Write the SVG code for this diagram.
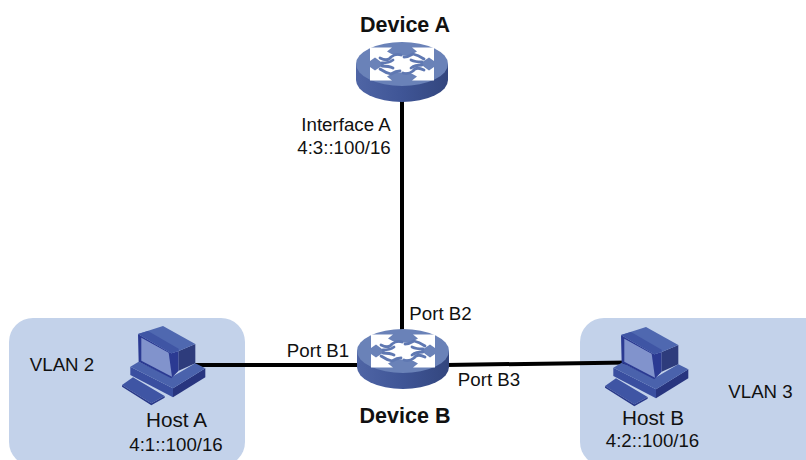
<svg xmlns="http://www.w3.org/2000/svg" width="806" height="460" viewBox="0 0 806 460">
<style>
text{font-family:"Liberation Sans",Arial,sans-serif;fill:#111;text-anchor:middle}
.l{font-size:18.7px}.h{font-size:20.7px}.d{font-size:21.5px;font-weight:bold}
.vlan{fill:#c3d2ea}
.c{stroke:#000;stroke-width:4;fill:none}
</style>
<defs>
<linearGradient id="side" x1="0" x2="1" y1="0" y2="0"><stop offset="0" stop-color="#4f65a5"/><stop offset="0.5" stop-color="#3f5596"/><stop offset="1" stop-color="#33467e"/></linearGradient>
<g id="router">
<path d="M-46 0V16A46 22 0 0 0 46 16V0Z" fill="url(#side)"/>
<ellipse cx="0" cy="0" rx="46" ry="22" fill="#6a82b8"/>
<path fill="#fff" d="M-32-16.500H-10L-15-12.500Q-10-9-5-8.500Q0-8.500 5-8.500Q10-9 15-12.500L10-16.500H32V-3L27-6.500Q22-3 18-0.500Q22 3 27 6.500L32 3V16.500H10L15 12.500Q10 9 5 8.500Q0 8.500-5 8.500Q-10 9-15 12.500L-10 16.500H-32V3L-27 6.500Q-22 3-18 0.500Q-22-3-27-6.500L-32-3Z"/>
<g fill="none" stroke="#5f78b2" stroke-width="2.800" stroke-linecap="round">
<path d="M-22-6Q-14-2-11-7Q-6-11-1-9"/>
<path d="M22 6Q14 2 11 7Q6 11 1 9"/>
<path d="M22-5Q16-9 11-10Q6-7 2-7"/>
<path d="M-22 5Q-16 9-11 10Q-6 7-2 7"/>
<path d="M-20-1Q-13-1-9-4"/>
<path d="M20 1Q13 1 9 4"/>
<path d="M20-2Q13-2 9-4"/>
<path d="M-20 2Q-13 2-9 4"/>
</g>
</g>
<g id="host" transform="scale(0.3333)">
<path d="M12 195L45 172L140 228L100 250Z" fill="#3f55a4"/>
<path d="M12 195L100 250L140 228V233L100 256L12 200Z" fill="#2a3a8a"/>
<path d="M37 140V165L165 232V205Z" fill="#3a4fa0"/>
<path d="M165 205V232L262 172V145Z" fill="#28357f"/>
<path d="M37 140L62 125L160 172L232 130L262 145L165 205Z" fill="#4a62ac"/>
<path d="M60 42L62 125L160 175L182 152V93L160 100Z" fill="#2b3a92"/>
<path d="M182 93L232 72V130L182 152Z" fill="#2e3c7c"/>
<path d="M60 42L135 18L232 72L182 93L160 100Z" fill="#4f68b0"/>
<path d="M60 42L90 33L182 86V93L160 100Z" fill="#3f55a4"/>
<path d="M70 53L152 98L162 170L70 122Z" fill="#8193cc"/>
</g>
</defs>
<rect class="vlan" x="9" y="318" width="236" height="148" rx="24"/>
<rect class="vlan" x="580" y="318" width="250" height="148" rx="24"/>
<g id="connectors">
<path class="c" d="M402 100V330"/>
<path class="c" d="M195 365H360"/>
<path class="c" d="M446 365L628 362.500"/>
</g>
<g id="device-a"><use href="#router" x="402" y="64"/><text class="d" x="405" y="32">Device A</text></g>
<g id="device-b"><use href="#router" x="403" y="351"/><text class="d" x="405" y="423">Device B</text></g>
<g id="host-a"><use href="#host" x="118" y="320"/><text class="h" x="176.500" y="427">Host A</text><text class="l" x="176" y="451">4:1::100/16</text></g>
<g id="host-b"><use href="#host" x="601" y="321"/><text class="h" x="653" y="425">Host B</text><text class="l" x="652.500" y="447">4:2::100/16</text></g>
<text class="l" x="346" y="131">Interface A</text>
<text class="l" x="344" y="154">4:3::100/16</text>
<text class="l" x="440.500" y="320">Port B2</text>
<text class="l" x="318" y="357">Port B1</text>
<text class="l" x="489" y="386">Port B3</text>
<text class="l" x="62" y="371">VLAN 2</text>
<text class="l" x="760.500" y="398">VLAN 3</text>
</svg>
